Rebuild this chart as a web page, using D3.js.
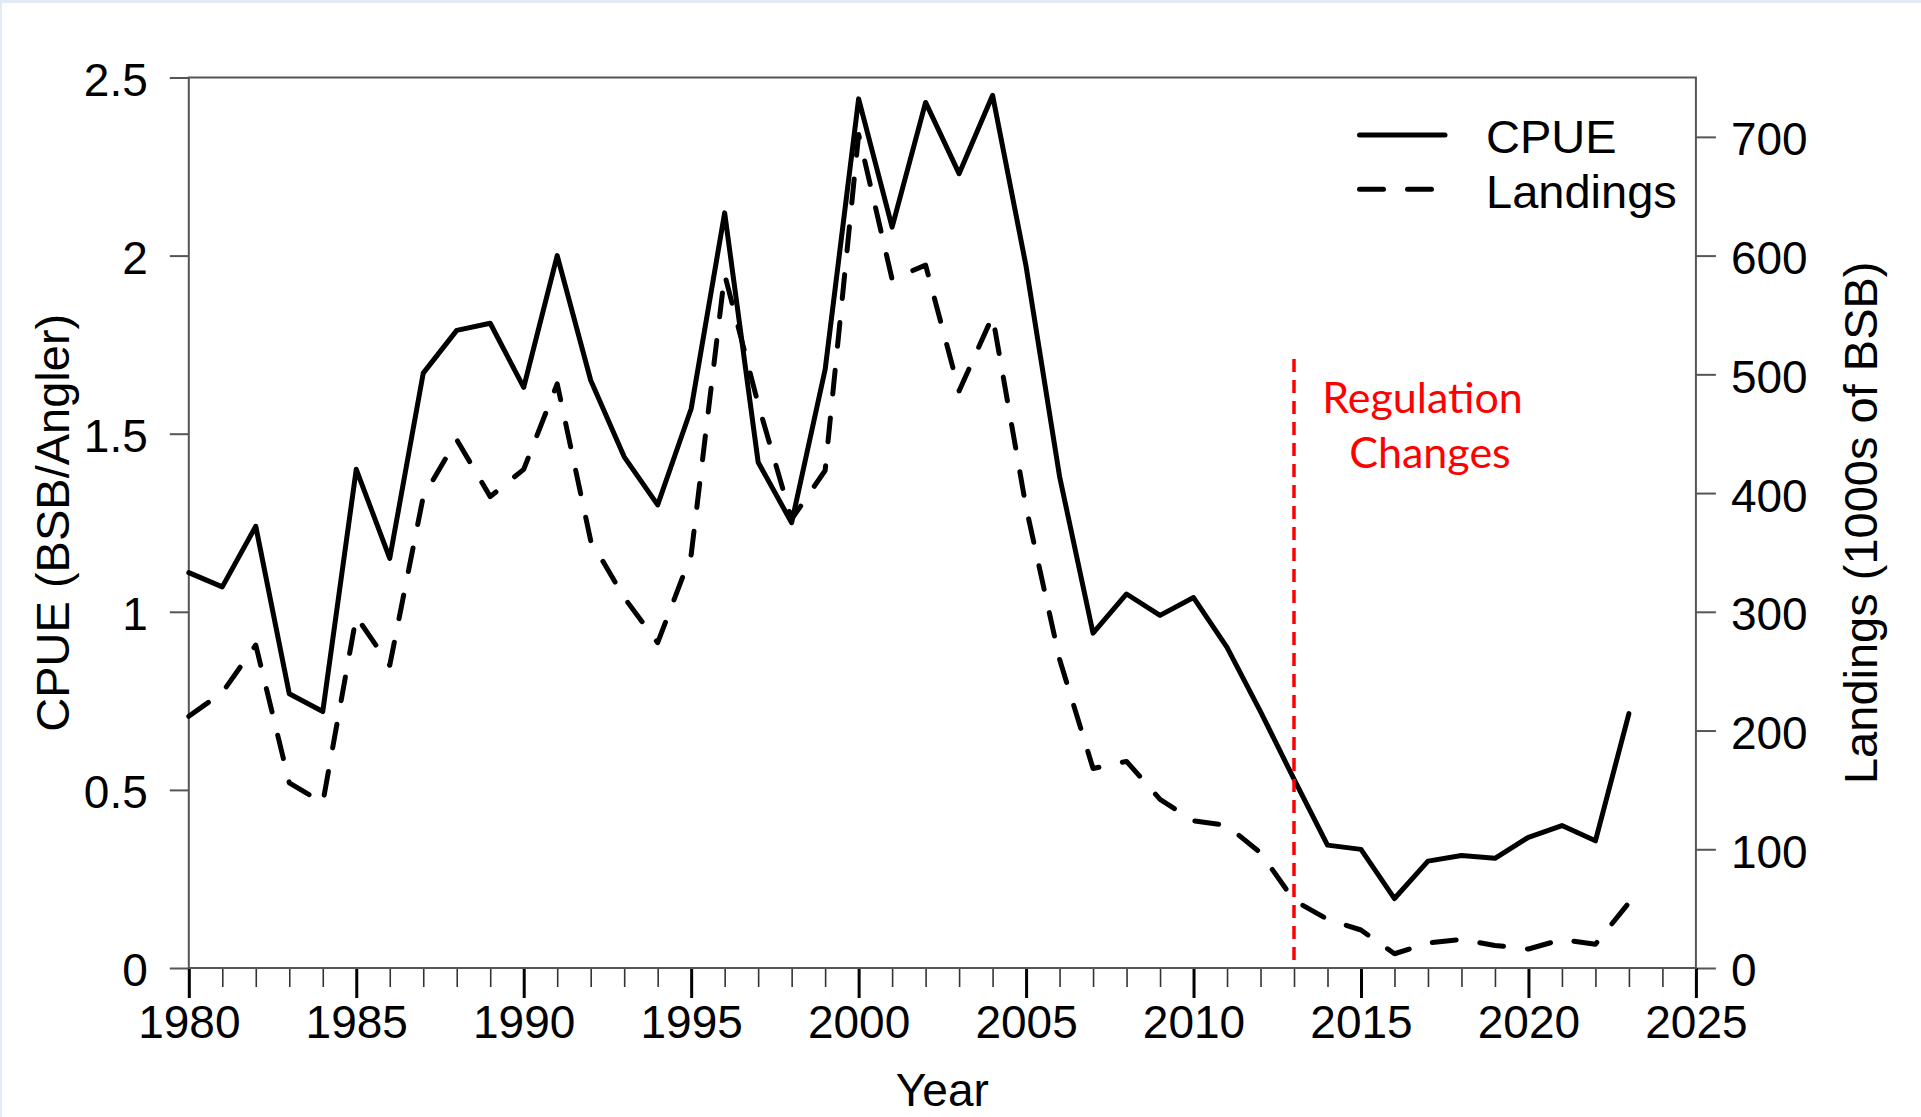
<!DOCTYPE html>
<html>
<head>
<meta charset="utf-8">
<script src="https://cdn.jsdelivr.net/npm/d3@7/dist/d3.min.js"></script>
<style>
html, body { margin: 0; padding: 0; background: #ffffff; }
svg { display: block; }
</style>
</head>
<body>
<svg id="chart" width="1921" height="1117"></svg>
<script>
// ---------------- DATA ----------------
const years = [1980,1981,1982,1983,1984,1985,1986,1987,1988,1989,
               1990,1991,1992,1993,1994,1995,1996,1997,1998,1999,
               2000,2001,2002,2003,2004,2005,2006,2007,2008,2009,
               2010,2011,2012,2013,2014,2015,2016,2017,2018,2019,
               2020,2021,2022,2023];
const cpue = [1.11,1.07,1.24,0.77,0.72,1.40,1.15,1.67,1.79,1.81,
              1.63,2.00,1.65,1.435,1.30,1.57,2.12,1.42,1.25,1.68,
              2.44,2.08,2.43,2.23,2.45,1.97,1.38,0.94,1.05,0.99,
              1.04,0.90,0.72,0.53,0.345,0.333,0.195,0.30,0.316,0.308,
              0.367,0.40,0.357,0.714];
const landings = [212,232,272,156,139,296,255,397,445,397,
                  420,492,360,312,274,348,584,475,378,419,
                  702,580,592,486,549,388,260,168,174,142,
                  124,120,97,57,41,32,12,21,24,19,
                  16,24,20,55];
const cpueTicks = [0,0.5,1,1.5,2,2.5];
const landingTicks = [0,100,200,300,400,500,600,700];
const yearTicks = [1980,1985,1990,1995,2000,2005,2010,2015,2020,2025];
const seriesNames = ["CPUE","Landings"];
const regulationYear = 2013;
const regulationTop = 1.71;           // in CPUE units
const regulationLabel = ["Regulation","Changes"];
const yLeftTitle = "CPUE (BSB/Angler)";
const yRightTitle = "Landings (1000s of BSB)";
const xTitle = "Year";

// ---------------- LAYOUT ----------------
const W = 1921, H = 1117;
const P = {left: 188.8, right: 1695.9, top: 77.5, bottom: 968};
const AXIS_FONT = "'Liberation Sans', Arial, Helvetica, sans-serif";

const svg = d3.select("#chart");

// light frame strips of the original screenshot
svg.append("rect").attr("x",0).attr("y",0).attr("width",W).attr("height",H).attr("fill","#ffffff");
svg.append("rect").attr("x",0).attr("y",0).attr("width",W).attr("height",3).attr("fill","#e2eaf4");
svg.append("rect").attr("x",0).attr("y",0).attr("width",2).attr("height",H).attr("fill","#e2eaf4");

const x = d3.scaleLinear().domain([1980, 2025]).range([P.left, P.right]);
const yC = d3.scaleLinear().domain([0, 2.5]).range([P.bottom, P.top]);
const yL = d3.scaleLinear().domain([0, 750]).range([P.bottom, P.top]);

const data = years.map((yr, i) => ({year: yr, cpue: cpue[i], land: landings[i]}));

// ---------------- AXES ----------------
function styleAxis(g, tickColor, tickWidth) {
  g.select(".domain").remove();
  g.selectAll(".tick line").attr("stroke", tickColor).attr("stroke-width", tickWidth);
  g.selectAll(".tick text")
    .attr("fill", "#000")
    .style("font-family", AXIS_FONT)
    .style("font-size", "46px");
}

const gLeft = svg.append("g")
  .attr("transform", `translate(${P.left},0)`)
  .call(d3.axisLeft(yC).tickValues(cpueTicks).tickFormat(d => String(d))
        .tickSize(19).tickSizeOuter(0).tickPadding(22));
styleAxis(gLeft, "#555", 2);
gLeft.selectAll(".tick text").attr("dy", "0.39em");

const gRight = svg.append("g")
  .attr("transform", `translate(${P.right},0)`)
  .call(d3.axisRight(yL).tickValues(landingTicks).tickFormat(d => String(d))
        .tickSize(20).tickSizeOuter(0).tickPadding(15));
styleAxis(gRight, "#555", 2);
gRight.selectAll(".tick text").attr("dy", "0.39em");

const gMinor = svg.append("g")
  .attr("transform", `translate(0,${P.bottom})`)
  .call(d3.axisBottom(x).tickValues(d3.range(1980, 2026)).tickFormat(() => "")
        .tickSize(19).tickSizeOuter(0));
styleAxis(gMinor, "#333", 1.6);

const gBottom = svg.append("g")
  .attr("transform", `translate(0,${P.bottom})`)
  .call(d3.axisBottom(x).tickValues(yearTicks).tickFormat(d => String(d))
        .tickSize(30).tickSizeOuter(0).tickPadding(7));
styleAxis(gBottom, "#000", 3);

// plot frame
svg.append("rect")
  .attr("x", P.left).attr("y", P.top)
  .attr("width", P.right - P.left).attr("height", P.bottom - P.top)
  .attr("fill", "none").attr("stroke", "#555").attr("stroke-width", 2);

// ---------------- SERIES ----------------
const lineC = d3.line().x(d => x(d.year)).y(d => yC(d.cpue));
const lineL = d3.line().x(d => x(d.year)).y(d => yL(d.land));

svg.append("path").datum(data)
  .attr("d", lineL)
  .attr("fill", "none").attr("stroke", "#000").attr("stroke-width", 5)
  .attr("stroke-dasharray", "24,24").attr("stroke-linecap", "round")
  .attr("stroke-linejoin", "round");

svg.append("path").datum(data)
  .attr("d", lineC)
  .attr("fill", "none").attr("stroke", "#000").attr("stroke-width", 5)
  .attr("stroke-linejoin", "round").attr("stroke-linecap", "round");

// regulation change marker
svg.append("line")
  .attr("x1", x(regulationYear)).attr("x2", x(regulationYear))
  .attr("y1", yC(regulationTop)).attr("y2", yC(0))
  .attr("stroke", "#ff0000").attr("stroke-width", 3.5)
  .attr("stroke-dasharray", "13,8");

const regText = svg.append("g")
  .style("font-family", "Lato, 'Open Sans', sans-serif")
  .style("font-size", "43px")
  .attr("fill", "#ff0000")
  .attr("text-anchor", "middle");
regText.append("text").attr("x", 1422.5).attr("y", 412.7).text(regulationLabel[0]);
regText.append("text").attr("x", 1430).attr("y", 468.3).text(regulationLabel[1]);

// ---------------- LEGEND ----------------
const legend = svg.append("g");
legend.append("line")
  .attr("x1", 1359.5).attr("x2", 1445).attr("y1", 135).attr("y2", 135)
  .attr("stroke", "#000").attr("stroke-width", 5).attr("stroke-linecap", "round");
legend.append("line")
  .attr("x1", 1359.5).attr("x2", 1445).attr("y1", 189.3).attr("y2", 189.3)
  .attr("stroke", "#000").attr("stroke-width", 5).attr("stroke-linecap", "round")
  .attr("stroke-dasharray", "24,24");
legend.selectAll("text.leg").data(seriesNames).enter().append("text")
  .attr("class", "leg")
  .attr("x", 1486)
  .attr("y", (d, i) => i === 0 ? 152.9 : 208)
  .style("font-family", AXIS_FONT).style("font-size", "47px")
  .attr("fill", "#000")
  .text(d => d);

// ---------------- TITLES ----------------
const midY = (P.top + P.bottom) / 2;
svg.append("text")
  .attr("transform", `translate(69,${midY}) rotate(-90)`)
  .attr("text-anchor", "middle")
  .style("font-family", AXIS_FONT).style("font-size", "47px")
  .text(yLeftTitle);
svg.append("text")
  .attr("transform", `translate(1877,${midY}) rotate(-90)`)
  .attr("text-anchor", "middle")
  .style("font-family", AXIS_FONT).style("font-size", "47px")
  .text(yRightTitle);
svg.append("text")
  .attr("x", (P.left + P.right) / 2).attr("y", 1106)
  .attr("text-anchor", "middle")
  .style("font-family", AXIS_FONT).style("font-size", "46px")
  .text(xTitle);
</script>
</body>
</html>
